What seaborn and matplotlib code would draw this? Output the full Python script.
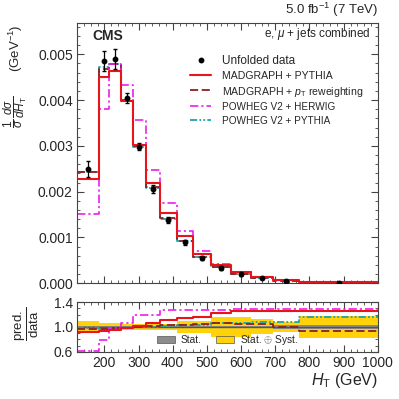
import numpy as np
import pandas as pd
import matplotlib
matplotlib.use("Agg")
import matplotlib.pyplot as plt
import seaborn as sns
from matplotlib.lines import Line2D
from matplotlib.patches import Patch
from matplotlib.ticker import MultipleLocator, FixedLocator, FormatStrFormatter

# H_T bin edges (GeV)
edges = [120, 185, 215, 250, 283, 322, 363, 412, 460, 512, 570, 630, 692, 770, 1000]

# normalised cross section, units of 1e-3 GeV^-1
data_vals = [2.49, 4.85, 4.89, 4.04, 2.98, 2.06, 1.38, 0.895, 0.545, 0.335, 0.195, 0.108, 0.057, 0.016]
data_err = [0.17, 0.22, 0.22, 0.11, 0.08, 0.09, 0.07, 0.055, 0.045, 0.035, 0.025, 0.012, 0.007, 0.003]
mg_pythia = [2.28, 4.51, 4.64, 3.97, 3.03, 2.18, 1.53, 1.03, 0.63, 0.41, 0.245, 0.136, 0.072, 0.0202]
mg_ptrw = [2.42, 4.68, 4.78, 4.00, 2.99, 2.10, 1.42, 0.925, 0.575, 0.357, 0.204, 0.113, 0.057, 0.015]
pw_herwig = [1.52, 3.80, 4.78, 4.33, 3.56, 2.47, 1.76, 1.14, 0.695, 0.428, 0.25, 0.139, 0.073, 0.0205]
pw_pythia = [2.43, 4.72, 4.79, 3.98, 2.97, 2.07, 1.40, 0.925, 0.565, 0.355, 0.207, 0.117, 0.062, 0.0185]

# relative uncertainties on the data
rel_stat = [0.02, 0.015, 0.015, 0.015, 0.015, 0.015, 0.015, 0.015, 0.018, 0.02, 0.02, 0.022, 0.025, 0.03]
rel_tot = [0.10, 0.065, 0.065, 0.05, 0.05, 0.05, 0.05, 0.09, 0.10, 0.16, 0.16, 0.12, 0.085, 0.17]

edge_arr = np.array(edges, dtype=float)
centers = 0.5 * (edge_arr[:-1] + edge_arr[1:])
data = np.array(data_vals) * 1e-3
models = [
    (np.array(pw_pythia) * 1e-3, "#1fa3a8", (0, (4, 1.2, 1, 1.2, 1, 1.2)), 1.3),
    (np.array(mg_ptrw) * 1e-3, "#8b2020", (0, (4.5, 2)), 1.3),
    (np.array(pw_herwig) * 1e-3, "#ee1cee", (0, (5, 1.8, 1.3, 1.8)), 1.2),
    (np.array(mg_pythia) * 1e-3, "#e8141b", "-", 1.5),
]

sns.set_style("ticks")
plt.rcParams["font.family"] = ["Liberation Sans", "DejaVu Sans"]
plt.rcParams["mathtext.fontset"] = "custom"
plt.rcParams["mathtext.rm"] = "Liberation Sans"
plt.rcParams["mathtext.it"] = "Liberation Sans:italic"
plt.rcParams["mathtext.bf"] = "Liberation Sans:bold"


def step_hist(axis, vals, col, ls, lw):
    df = pd.DataFrame({"ht": centers, "w": vals})
    sns.histplot(data=df, x="ht", weights="w", bins=list(edges), element="step", fill=False,
                 color=col, linestyle=ls, linewidth=lw, ax=axis)


fig = plt.figure(figsize=(3.99, 3.99), dpi=100)
ax = fig.add_axes([0.193, 0.29, 0.754, 0.652])
rax = fig.add_axes([0.193, 0.118, 0.754, 0.125], sharex=ax)

# --- main panel ---
for vals, col, ls, lw in models:
    step_hist(ax, vals, col, ls, lw)
ax.errorbar(centers, data, yerr=np.array(data_err) * 1e-3, fmt="o", color="black",
            ms=3.2, elinewidth=0.9, capsize=1.5, zorder=10)

ax.set_xlim(120, 1000)
ax.set_ylim(0, 0.00568)
ax.yaxis.set_major_locator(MultipleLocator(0.001))
ax.yaxis.set_minor_locator(MultipleLocator(0.0002))
ax.yaxis.set_major_formatter(FormatStrFormatter("%.3f"))
ax.xaxis.set_major_locator(MultipleLocator(100))
ax.xaxis.set_minor_locator(MultipleLocator(20))
ax.set_xlabel("")
ax.set_ylabel("")
plt.setp(ax.get_xticklabels(), visible=False)

# y axis title in two pieces (fraction + unit)
fig.text(0.038, 1 - 112 / 399, r"$\dfrac{1}{\sigma}\,\dfrac{d\sigma}{dH_\mathrm{T}}$",
         rotation=90, fontsize=8.5, ha="center", va="center")
fig.text(0.041, 1 - 48 / 399, r"(GeV$^{-1}$)", rotation=90, fontsize=9.5,
         ha="center", va="center")

ax.text(0.05, 0.95, "CMS", transform=ax.transAxes, fontsize=10, fontweight="bold",
        va="center", ha="left")
ax.text(0.977, 0.96, r"e, $\mu$ + jets combined", transform=ax.transAxes,
        fontsize=8.5, va="center", ha="right")
ax.text(1.0, 1.015, r"5.0 fb$^{-1}$ (7 TeV)", transform=ax.transAxes, fontsize=9.5,
        va="bottom", ha="right")

handles = [
    Line2D([], [], color="black", marker="o", ms=3.2, ls="none"),
    Line2D([], [], color=models[3][1], ls=models[3][2], lw=models[3][3]),
    Line2D([], [], color=models[1][1], ls=models[1][2], lw=models[1][3]),
    Line2D([], [], color=models[2][1], ls=models[2][2], lw=models[2][3]),
    Line2D([], [], color=models[0][1], ls=models[0][2], lw=models[0][3]),
]
labels = ["Unfolded data", "MADGRAPH + PYTHIA", r"MADGRAPH + $p_\mathrm{T}$ reweighting",
          "POWHEG V2 + HERWIG", "POWHEG V2 + PYTHIA"]
leg = ax.legend(handles, labels, loc="upper left", bbox_to_anchor=(0.36, 0.895),
                frameon=False, fontsize=8.5, handlelength=1.8, handletextpad=0.9,
                labelspacing=0.3, borderaxespad=0)
for t, fs in zip(leg.get_texts(), [8.5, 7.6, 7.6, 7.2, 7.2]):
    t.set_fontsize(fs)

# --- ratio panel ---
r_tot = np.array(rel_tot)
r_stat = np.array(rel_stat)
rax.fill_between(edge_arr, np.append(1 - r_tot, 1 - r_tot[-1]), np.append(1 + r_tot, 1 + r_tot[-1]),
                 step="post", color="#ffd20a", lw=0)
rax.fill_between(edge_arr, np.append(1 - r_stat, 1 - r_stat[-1]), np.append(1 + r_stat, 1 + r_stat[-1]),
                 step="post", color="#8c8c8c", lw=0)
rax.axhline(1.0, color="#555555", lw=1.0)
for vals, col, ls, lw in models:
    step_hist(rax, vals / data, col, ls, lw)

rax.set_ylim(0.6, 1.4)
rax.set_xlim(120, 1000)
rax.yaxis.set_major_locator(FixedLocator([0.6, 1.0, 1.4]))
rax.yaxis.set_minor_locator(MultipleLocator(0.1))
rax.yaxis.set_major_formatter(FormatStrFormatter("%.1f"))
rax.set_ylabel("")
fig.text(26 / 399, 1 - 324 / 399, r"$\dfrac{\mathrm{pred.}}{\mathrm{data}}$", rotation=90,
         fontsize=9.5, ha="center", va="center")
rax.set_xlabel(r"$H_\mathrm{T}$ (GeV)", fontsize=11.5, loc="right", labelpad=1)

rleg = rax.legend([Patch(facecolor="#8c8c8c", edgecolor="#555555", lw=0.5),
                   Patch(facecolor="#ffd20a", edgecolor="#555555", lw=0.5)],
                  ["Stat.", r"Stat. $\oplus$ Syst."], loc="center",
                  bbox_to_anchor=(0.5, 0.24), ncol=2, frameon=False, fontsize=7.3,
                  handlelength=1.8, handleheight=0.8, handletextpad=0.6,
                  columnspacing=1.4, borderaxespad=0)

for a in (ax, rax):
    a.tick_params(which="both", direction="in", top=True, right=True, labelsize=10,
                  color="#444444", pad=3)
    a.tick_params(which="major", length=5)
    a.tick_params(which="minor", length=2.5)
    for s in a.spines.values():
        s.set_color("#444444")
        s.set_linewidth(0.8)

fig.savefig("out.png", dpi=100)
